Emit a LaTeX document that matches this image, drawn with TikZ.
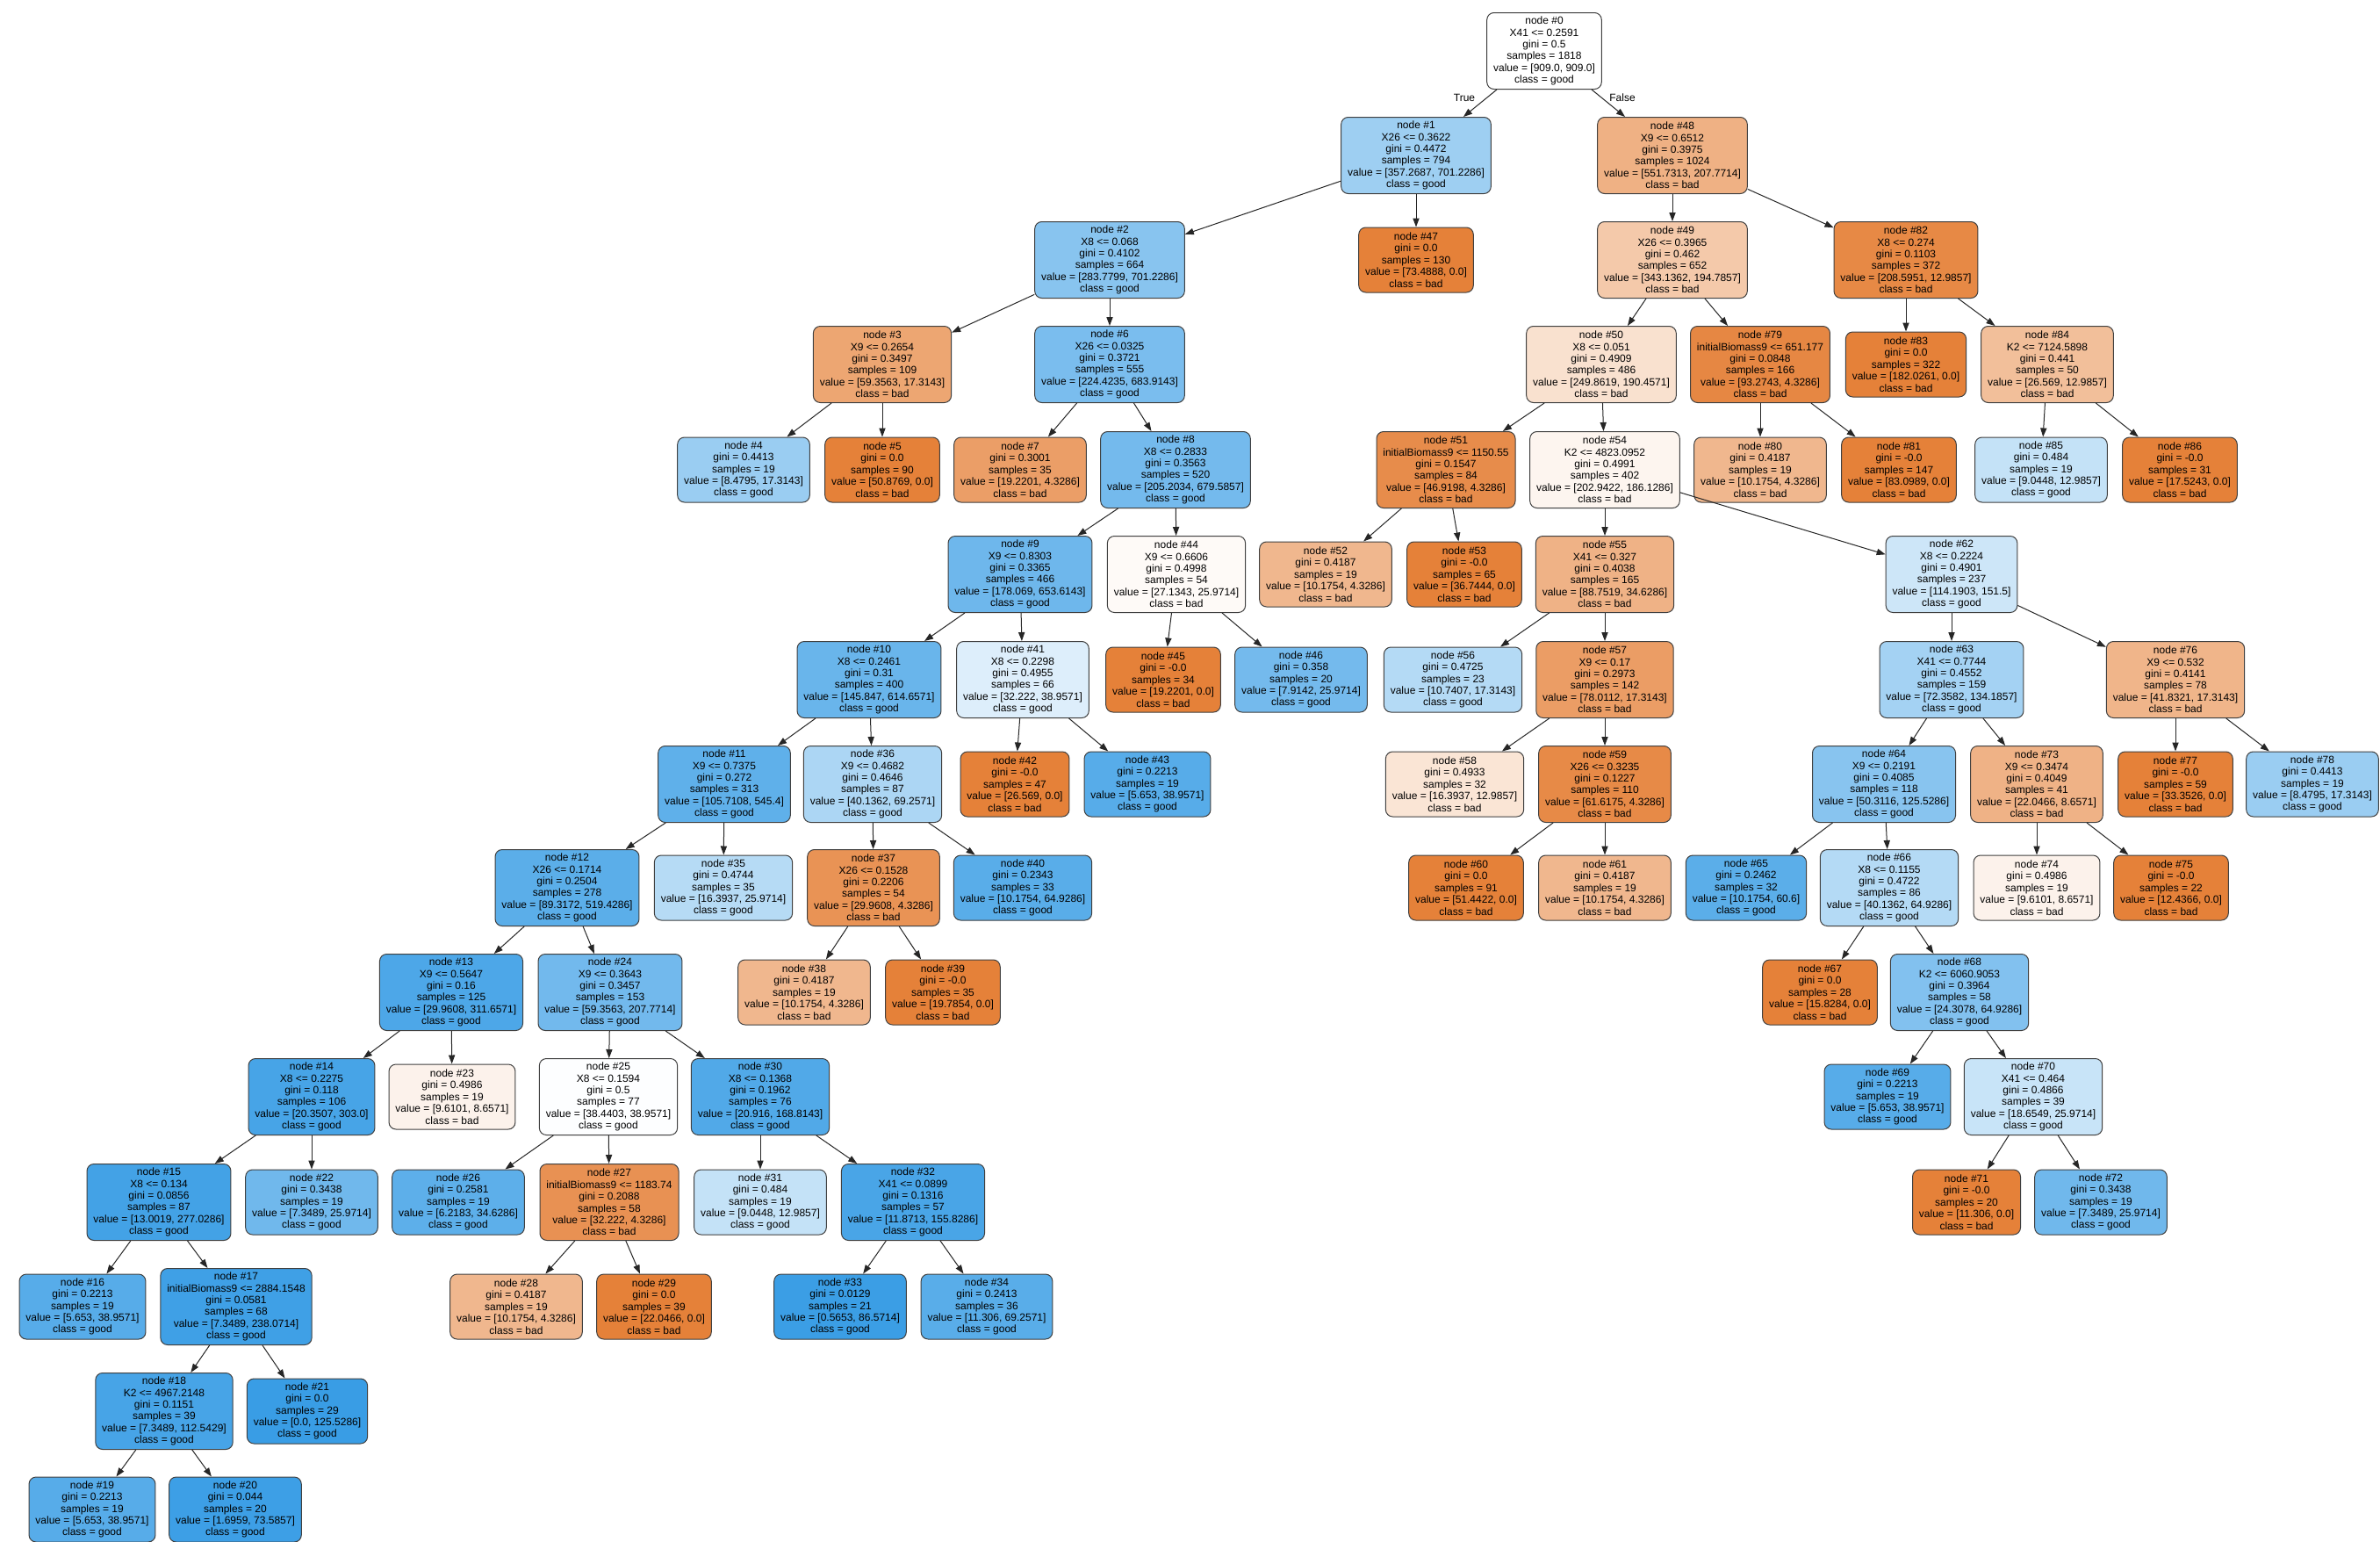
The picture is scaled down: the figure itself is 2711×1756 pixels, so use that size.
\documentclass[tikz,border=0pt]{standalone}
\usepackage{fontspec}
\setmainfont{Liberation Sans}
\usetikzlibrary{arrows.meta}
\definecolor{cbad}{RGB}{229,129,57}
\definecolor{cgood}{RGB}{57,157,229}
\tikzset{
  tn/.style={draw=black!75, line width=0.5pt, rounded corners=4pt, align=center,
    font=\fontsize{6}{6.7}\selectfont, inner xsep=3.7pt, inner ysep=0.5pt},
  six/.style={minimum height=43.5pt},
  five/.style={minimum height=37pt},
  edge/.style={-{Triangle[length=5pt,width=3.6pt]}, line width=0.5pt, draw=black!85},
  elabel/.style={font=\fontsize{6}{6.7}\selectfont, inner sep=0pt}
}
\begin{document}
\begin{tikzpicture}[x=0.5pt,y=-0.5pt]
\fill[white] (0,0) rectangle (2711,1756);
\useasboundingbox (0,0) rectangle (2711,1756);
% level 0
\node[tn,six,fill=white] (n0) at (1759,58) {node \#0\\X41 <= 0.2591\\gini = 0.5\\samples = 1818\\value = [909.0, 909.0]\\class = good};
% level 1
\node[tn,six,fill=cgood!49!white] (n1) at (1613,177) {node \#1\\X26 <= 0.3622\\gini = 0.4472\\samples = 794\\value = [357.2687, 701.2286]\\class = good};
\node[tn,six,fill=cbad!62!white] (n48) at (1905,177) {node \#48\\X9 <= 0.6512\\gini = 0.3975\\samples = 1024\\value = [551.7313, 207.7714]\\class = bad};
% level 2
\node[tn,six,fill=cgood!60!white] (n2) at (1264,296) {node \#2\\X8 <= 0.068\\gini = 0.4102\\samples = 664\\value = [283.7799, 701.2286]\\class = good};
\node[tn,five,fill=cbad] (n47) at (1613,296) {node \#47\\gini = 0.0\\samples = 130\\value = [73.4888, 0.0]\\class = bad};
\node[tn,six,fill=cbad!43!white] (n49) at (1905,296) {node \#49\\X26 <= 0.3965\\gini = 0.462\\samples = 652\\value = [343.1362, 194.7857]\\class = bad};
\node[tn,six,fill=cbad!94!white] (n82) at (2171,296) {node \#82\\X8 <= 0.274\\gini = 0.1103\\samples = 372\\value = [208.5951, 12.9857]\\class = bad};
% level 3
\node[tn,six,fill=cbad!71!white] (n3) at (1005,415) {node \#3\\X9 <= 0.2654\\gini = 0.3497\\samples = 109\\value = [59.3563, 17.3143]\\class = bad};
\node[tn,six,fill=cgood!67!white] (n6) at (1264,415) {node \#6\\X26 <= 0.0325\\gini = 0.3721\\samples = 555\\value = [224.4235, 683.9143]\\class = good};
\node[tn,six,fill=cbad!24!white] (n50) at (1824,415) {node \#50\\X8 <= 0.051\\gini = 0.4909\\samples = 486\\value = [249.8619, 190.4571]\\class = bad};
\node[tn,six,fill=cbad!95!white] (n79) at (2005,415) {node \#79\\initialBiomass9 <= 651.177\\gini = 0.0848\\samples = 166\\value = [93.2743, 4.3286]\\class = bad};
\node[tn,five,fill=cbad] (n83) at (2171,415) {node \#83\\gini = 0.0\\samples = 322\\value = [182.0261, 0.0]\\class = bad};
\node[tn,six,fill=cbad!51!white] (n84) at (2332,415) {node \#84\\K2 <= 7124.5898\\gini = 0.441\\samples = 50\\value = [26.569, 12.9857]\\class = bad};
% level 4
\node[tn,five,fill=cgood!51!white] (n4) at (847,535) {node \#4\\gini = 0.4413\\samples = 19\\value = [8.4795, 17.3143]\\class = good};
\node[tn,five,fill=cbad] (n5) at (1005,535) {node \#5\\gini = 0.0\\samples = 90\\value = [50.8769, 0.0]\\class = bad};
\node[tn,five,fill=cbad!77!white] (n7) at (1162,535) {node \#7\\gini = 0.3001\\samples = 35\\value = [19.2201, 4.3286]\\class = bad};
\node[tn,six,fill=cgood!70!white] (n8) at (1339,535) {node \#8\\X8 <= 0.2833\\gini = 0.3563\\samples = 520\\value = [205.2034, 679.5857]\\class = good};
\node[tn,six,fill=cbad!91!white] (n51) at (1647,535) {node \#51\\initialBiomass9 <= 1150.55\\gini = 0.1547\\samples = 84\\value = [46.9198, 4.3286]\\class = bad};
\node[tn,six,fill=cbad!8!white] (n54) at (1828,535) {node \#54\\K2 <= 4823.0952\\gini = 0.4991\\samples = 402\\value = [202.9422, 186.1286]\\class = bad};
\node[tn,five,fill=cbad!57!white] (n80) at (2005,535) {node \#80\\gini = 0.4187\\samples = 19\\value = [10.1754, 4.3286]\\class = bad};
\node[tn,five,fill=cbad] (n81) at (2163,535) {node \#81\\gini = -0.0\\samples = 147\\value = [83.0989, 0.0]\\class = bad};
\node[tn,five,fill=cgood!30!white] (n85) at (2325,535) {node \#85\\gini = 0.484\\samples = 19\\value = [9.0448, 12.9857]\\class = good};
\node[tn,five,fill=cbad] (n86) at (2483,535) {node \#86\\gini = -0.0\\samples = 31\\value = [17.5243, 0.0]\\class = bad};
% level 5
\node[tn,six,fill=cgood!73!white] (n9) at (1162,654) {node \#9\\X9 <= 0.8303\\gini = 0.3365\\samples = 466\\value = [178.069, 653.6143]\\class = good};
\node[tn,six,fill=cbad!4!white] (n44) at (1340,654) {node \#44\\X9 <= 0.6606\\gini = 0.4998\\samples = 54\\value = [27.1343, 25.9714]\\class = bad};
\node[tn,five,fill=cbad!57!white] (n52) at (1510,654) {node \#52\\gini = 0.4187\\samples = 19\\value = [10.1754, 4.3286]\\class = bad};
\node[tn,five,fill=cbad] (n53) at (1668,654) {node \#53\\gini = -0.0\\samples = 65\\value = [36.7444, 0.0]\\class = bad};
\node[tn,six,fill=cbad!61!white] (n55) at (1828,654) {node \#55\\X41 <= 0.327\\gini = 0.4038\\samples = 165\\value = [88.7519, 34.6286]\\class = bad};
\node[tn,six,fill=cgood!25!white] (n62) at (2223,654) {node \#62\\X8 <= 0.2224\\gini = 0.4901\\samples = 237\\value = [114.1903, 151.5]\\class = good};
% level 6
\node[tn,six,fill=cgood!76!white] (n10) at (990,774) {node \#10\\X8 <= 0.2461\\gini = 0.31\\samples = 400\\value = [145.847, 614.6571]\\class = good};
\node[tn,six,fill=cgood!17!white] (n41) at (1165,774) {node \#41\\X8 <= 0.2298\\gini = 0.4955\\samples = 66\\value = [32.222, 38.9571]\\class = good};
\node[tn,five,fill=cbad] (n45) at (1325,774) {node \#45\\gini = -0.0\\samples = 34\\value = [19.2201, 0.0]\\class = bad};
\node[tn,five,fill=cgood!70!white] (n46) at (1482,774) {node \#46\\gini = 0.358\\samples = 20\\value = [7.9142, 25.9714]\\class = good};
\node[tn,five,fill=cgood!38!white] (n56) at (1655,774) {node \#56\\gini = 0.4725\\samples = 23\\value = [10.7407, 17.3143]\\class = good};
\node[tn,six,fill=cbad!78!white] (n57) at (1828,774) {node \#57\\X9 <= 0.17\\gini = 0.2973\\samples = 142\\value = [78.0112, 17.3143]\\class = bad};
\node[tn,six,fill=cgood!46!white] (n63) at (2223,774) {node \#63\\X41 <= 0.7744\\gini = 0.4552\\samples = 159\\value = [72.3582, 134.1857]\\class = good};
\node[tn,six,fill=cbad!59!white] (n76) at (2478,774) {node \#76\\X9 <= 0.532\\gini = 0.4141\\samples = 78\\value = [41.8321, 17.3143]\\class = bad};
% level 7
\node[tn,six,fill=cgood!81!white] (n11) at (825,893) {node \#11\\X9 <= 0.7375\\gini = 0.272\\samples = 313\\value = [105.7108, 545.4]\\class = good};
\node[tn,six,fill=cgood!42!white] (n36) at (994,893) {node \#36\\X9 <= 0.4682\\gini = 0.4646\\samples = 87\\value = [40.1362, 69.2571]\\class = good};
\node[tn,five,fill=cbad] (n42) at (1156,893) {node \#42\\gini = -0.0\\samples = 47\\value = [26.569, 0.0]\\class = bad};
\node[tn,five,fill=cgood!85!white] (n43) at (1307,893) {node \#43\\gini = 0.2213\\samples = 19\\value = [5.653, 38.9571]\\class = good};
\node[tn,five,fill=cbad!21!white] (n58) at (1657,893) {node \#58\\gini = 0.4933\\samples = 32\\value = [16.3937, 12.9857]\\class = bad};
\node[tn,six,fill=cbad!93!white] (n59) at (1828,893) {node \#59\\X26 <= 0.3235\\gini = 0.1227\\samples = 110\\value = [61.6175, 4.3286]\\class = bad};
\node[tn,six,fill=cgood!60!white] (n64) at (2146,893) {node \#64\\X9 <= 0.2191\\gini = 0.4085\\samples = 118\\value = [50.3116, 125.5286]\\class = good};
\node[tn,six,fill=cbad!61!white] (n73) at (2320,893) {node \#73\\X9 <= 0.3474\\gini = 0.4049\\samples = 41\\value = [22.0466, 8.6571]\\class = bad};
\node[tn,five,fill=cbad] (n77) at (2478,893) {node \#77\\gini = -0.0\\samples = 59\\value = [33.3526, 0.0]\\class = bad};
\node[tn,five,fill=cgood!51!white] (n78) at (2634,893) {node \#78\\gini = 0.4413\\samples = 19\\value = [8.4795, 17.3143]\\class = good};
% level 8
\node[tn,six,fill=cgood!83!white] (n12) at (646,1011) {node \#12\\X26 <= 0.1714\\gini = 0.2504\\samples = 278\\value = [89.3172, 519.4286]\\class = good};
\node[tn,five,fill=cgood!37!white] (n35) at (824,1011) {node \#35\\gini = 0.4744\\samples = 35\\value = [16.3937, 25.9714]\\class = good};
\node[tn,six,fill=cbad!86!white] (n37) at (995,1011) {node \#37\\X26 <= 0.1528\\gini = 0.2206\\samples = 54\\value = [29.9608, 4.3286]\\class = bad};
\node[tn,five,fill=cgood!84!white] (n40) at (1165,1011) {node \#40\\gini = 0.2343\\samples = 33\\value = [10.1754, 64.9286]\\class = good};
\node[tn,five,fill=cbad] (n60) at (1670,1011) {node \#60\\gini = 0.0\\samples = 91\\value = [51.4422, 0.0]\\class = bad};
\node[tn,five,fill=cbad!57!white] (n61) at (1828,1011) {node \#61\\gini = 0.4187\\samples = 19\\value = [10.1754, 4.3286]\\class = bad};
\node[tn,five,fill=cgood!83!white] (n65) at (1989,1011) {node \#65\\gini = 0.2462\\samples = 32\\value = [10.1754, 60.6]\\class = good};
\node[tn,six,fill=cgood!38!white] (n66) at (2152,1011) {node \#66\\X8 <= 0.1155\\gini = 0.4722\\samples = 86\\value = [40.1362, 64.9286]\\class = good};
\node[tn,five,fill=cbad!10!white] (n74) at (2320,1011) {node \#74\\gini = 0.4986\\samples = 19\\value = [9.6101, 8.6571]\\class = bad};
\node[tn,five,fill=cbad] (n75) at (2473,1011) {node \#75\\gini = -0.0\\samples = 22\\value = [12.4366, 0.0]\\class = bad};
% level 9
\node[tn,six,fill=cgood!90!white] (n13) at (514,1130) {node \#13\\X9 <= 0.5647\\gini = 0.16\\samples = 125\\value = [29.9608, 311.6571]\\class = good};
\node[tn,six,fill=cgood!71!white] (n24) at (695,1130) {node \#24\\X9 <= 0.3643\\gini = 0.3457\\samples = 153\\value = [59.3563, 207.7714]\\class = good};
\node[tn,five,fill=cbad!57!white] (n38) at (916,1130) {node \#38\\gini = 0.4187\\samples = 19\\value = [10.1754, 4.3286]\\class = bad};
\node[tn,five,fill=cbad] (n39) at (1074,1130) {node \#39\\gini = -0.0\\samples = 35\\value = [19.7854, 0.0]\\class = bad};
\node[tn,five,fill=cbad] (n67) at (2073,1130) {node \#67\\gini = 0.0\\samples = 28\\value = [15.8284, 0.0]\\class = bad};
\node[tn,six,fill=cgood!63!white] (n68) at (2232,1130) {node \#68\\K2 <= 6060.9053\\gini = 0.3964\\samples = 58\\value = [24.3078, 64.9286]\\class = good};
% level 10
\node[tn,six,fill=cgood!93!white] (n14) at (355,1249) {node \#14\\X8 <= 0.2275\\gini = 0.118\\samples = 106\\value = [20.3507, 303.0]\\class = good};
\node[tn,five,fill=cbad!10!white] (n23) at (515,1249) {node \#23\\gini = 0.4986\\samples = 19\\value = [9.6101, 8.6571]\\class = bad};
\node[tn,six,fill=cgood!1!white] (n25) at (693,1249) {node \#25\\X8 <= 0.1594\\gini = 0.5\\samples = 77\\value = [38.4403, 38.9571]\\class = good};
\node[tn,six,fill=cgood!88!white] (n30) at (866,1249) {node \#30\\X8 <= 0.1368\\gini = 0.1962\\samples = 76\\value = [20.916, 168.8143]\\class = good};
\node[tn,five,fill=cgood!85!white] (n69) at (2150,1249) {node \#69\\gini = 0.2213\\samples = 19\\value = [5.653, 38.9571]\\class = good};
\node[tn,six,fill=cgood!28!white] (n70) at (2316,1249) {node \#70\\X41 <= 0.464\\gini = 0.4866\\samples = 39\\value = [18.6549, 25.9714]\\class = good};
% level 11
\node[tn,six,fill=cgood!95!white] (n15) at (181,1369) {node \#15\\X8 <= 0.134\\gini = 0.0856\\samples = 87\\value = [13.0019, 277.0286]\\class = good};
\node[tn,five,fill=cgood!72!white] (n22) at (355,1369) {node \#22\\gini = 0.3438\\samples = 19\\value = [7.3489, 25.9714]\\class = good};
\node[tn,five,fill=cgood!82!white] (n26) at (522,1369) {node \#26\\gini = 0.2581\\samples = 19\\value = [6.2183, 34.6286]\\class = good};
\node[tn,six,fill=cbad!87!white] (n27) at (694,1369) {node \#27\\initialBiomass9 <= 1183.74\\gini = 0.2088\\samples = 58\\value = [32.222, 4.3286]\\class = bad};
\node[tn,five,fill=cgood!30!white] (n31) at (866,1369) {node \#31\\gini = 0.484\\samples = 19\\value = [9.0448, 12.9857]\\class = good};
\node[tn,six,fill=cgood!92!white] (n32) at (1040,1369) {node \#32\\X41 <= 0.0899\\gini = 0.1316\\samples = 57\\value = [11.8713, 155.8286]\\class = good};
\node[tn,five,fill=cbad] (n71) at (2240,1369) {node \#71\\gini = -0.0\\samples = 20\\value = [11.306, 0.0]\\class = bad};
\node[tn,five,fill=cgood!72!white] (n72) at (2393,1369) {node \#72\\gini = 0.3438\\samples = 19\\value = [7.3489, 25.9714]\\class = good};
% level 12
\node[tn,five,fill=cgood!85!white] (n16) at (94,1488) {node \#16\\gini = 0.2213\\samples = 19\\value = [5.653, 38.9571]\\class = good};
\node[tn,six,fill=cgood!97!white] (n17) at (269,1488) {node \#17\\initialBiomass9 <= 2884.1548\\gini = 0.0581\\samples = 68\\value = [7.3489, 238.0714]\\class = good};
\node[tn,five,fill=cbad!57!white] (n28) at (588,1488) {node \#28\\gini = 0.4187\\samples = 19\\value = [10.1754, 4.3286]\\class = bad};
\node[tn,five,fill=cbad] (n29) at (745,1488) {node \#29\\gini = 0.0\\samples = 39\\value = [22.0466, 0.0]\\class = bad};
\node[tn,five,fill=cgood!99!white] (n33) at (957,1488) {node \#33\\gini = 0.0129\\samples = 21\\value = [0.5653, 86.5714]\\class = good};
\node[tn,five,fill=cgood!84!white] (n34) at (1124,1488) {node \#34\\gini = 0.2413\\samples = 36\\value = [11.306, 69.2571]\\class = good};
% level 13
\node[tn,six,fill=cgood!93!white] (n18) at (187,1607) {node \#18\\K2 <= 4967.2148\\gini = 0.1151\\samples = 39\\value = [7.3489, 112.5429]\\class = good};
\node[tn,five,fill=cgood] (n21) at (350,1607) {node \#21\\gini = 0.0\\samples = 29\\value = [0.0, 125.5286]\\class = good};
% level 14
\node[tn,five,fill=cgood!85!white] (n19) at (105,1719) {node \#19\\gini = 0.2213\\samples = 19\\value = [5.653, 38.9571]\\class = good};
\node[tn,five,fill=cgood!98!white] (n20) at (268,1719) {node \#20\\gini = 0.044\\samples = 20\\value = [1.6959, 73.5857]\\class = good};
% edge labels
\node[elabel] (ltrue) at (1668,111) {True};
\node[elabel] (lfalse) at (1848,111) {False};
% edges
\foreach \a/\b in {0/1,0/48,1/2,1/47,2/3,2/6,3/4,3/5,6/7,6/8,8/9,8/44,9/10,9/41,10/11,10/36,
  11/12,11/35,12/13,12/24,13/14,13/23,14/15,14/22,15/16,15/17,17/18,17/21,18/19,18/20,
  24/25,24/30,25/26,25/27,27/28,27/29,30/31,30/32,32/33,32/34,36/37,36/40,37/38,37/39,
  41/42,41/43,44/45,44/46,48/49,48/82,49/50,49/79,50/51,50/54,51/52,51/53,54/55,54/62,
  55/56,55/57,57/58,57/59,59/60,59/61,62/63,62/76,63/64,63/73,64/65,64/66,66/67,66/68,
  68/69,68/70,70/71,70/72,73/74,73/75,76/77,76/78,79/80,79/81,82/83,82/84,84/85,84/86}
  {\draw[edge] (n\a) -- (n\b);}
\end{tikzpicture}
\end{document}
